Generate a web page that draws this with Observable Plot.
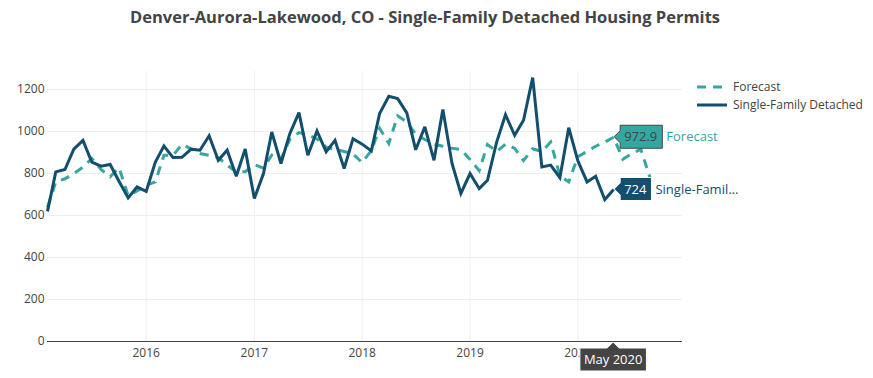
<!DOCTYPE html>
<html>
<head>
<meta charset="utf-8">
<script src="https://cdn.jsdelivr.net/npm/d3@7"></script>
<script src="https://cdn.jsdelivr.net/npm/@observablehq/plot@0.6"></script>
<style>
  body { margin: 0; background: #fff; font-family: "Open Sans", sans-serif; }
  #wrap { position: relative; width: 873px; height: 378px; overflow: hidden; background: #fff; }
  #title { height: 40px; box-sizing: border-box; padding-top: 7px; line-height: 20px; width: 850px;
           text-align: center; font-size: 16.5px; font-weight: bold; color: #444; }
  #legend { position: absolute; left: 690px; top: 76px; }
  #chart svg { display: block; }
</style>
</head>
<body>
<div id="wrap">
  <div id="title"></div>
  <div id="chart"></div>
  <div id="legend"></div>
</div>
<script>
// ---- data (monthly, starting February 2015) ----
const titleText = "Denver-Aurora-Lakewood, CO - Single-Family Detached Housing Permits";
const seriesNames = ["Forecast", "Single-Family Detached"];
const seriesColors = ["#35a6a0", "#124e6d"];
const startYear = 2015;
const startMonthIndex = 1; // February

const actualValues = [
  620, 808, 819, 916, 958, 854, 835, 843, 763, 684, 736,            // 2015 Feb-Dec
  715, 855, 931, 876, 877, 916, 911, 980, 863, 911, 787, 917,       // 2016
  681, 800, 998, 848, 990, 1090, 887, 1003, 903, 958, 824, 966,     // 2017
  940, 908, 1086, 1168, 1157, 1089, 913, 1022, 863, 1105, 848, 705, // 2018
  800, 728, 768, 950, 1080, 982, 1054, 1257, 831, 840, 780, 1018,   // 2019
  860, 760, 787, 676, 724                                           // 2020 Jan-May
];

const forecastValues = [
  640, 760, 775, 800, 830, 872, 820, 785, 828, 695, 717,            // 2015 Feb-Dec
  744, 760, 887, 887, 939, 918, 895, 887, 876, 840, 808, 808,       // 2016
  843, 826, 888, 868, 963, 995, 985, 965, 925, 915, 905, 893,       // 2017
  852, 910, 1015, 943, 1075, 1045, 988, 962, 940, 930, 920, 915,    // 2018
  867, 814, 938, 905, 940, 920, 862, 918, 905, 950, 790, 760,       // 2019
  880, 905, 930, 950, 972.9, 868, 895, 915, 780                     // 2020 Jan-Sep
];

const yearTickLabels = [2016, 2017, 2018, 2019, 2020];
const yTickValues = [0, 200, 400, 600, 800, 1000, 1200];
const hoverLabelText = "May 2020";
const hoverMonthOffset = 63; // May 2020 relative to Feb 2015

// ---- build tables ----
const monthDate = i => new Date(Date.UTC(startYear, startMonthIndex + i, 1));
const actual = actualValues.map((v, i) => ({date: monthDate(i), value: v}));
const forecast = forecastValues.map((v, i) => ({date: monthDate(i), value: v}));
const yearDates = yearTickLabels.map(y => new Date(Date.UTC(y, 0, 1)));
const xDomain = [monthDate(0), new Date(Date.UTC(2020, 11, 20))];

document.getElementById("title").textContent = titleText;

const plot = Plot.plot({
  width: 873,
  height: 338,
  marginLeft: 47,
  marginRight: 191,
  marginTop: 31,
  marginBottom: 37,
  style: {fontFamily: "'Open Sans', sans-serif", fontSize: "12px", color: "#444", background: "#fff", overflow: "visible"},
  x: {type: "utc", domain: xDomain, ticks: yearDates, tickFormat: d => String(d.getUTCFullYear()),
      tickSize: 0, tickPadding: 7, label: null},
  y: {domain: [0, 1286], ticks: yTickValues, tickFormat: d => String(d), tickSize: 0, tickPadding: 3, label: null},
  marks: [
    Plot.ruleX(yearDates, {stroke: "#eee", strokeWidth: 1}),
    Plot.ruleY(yTickValues.filter(d => d > 0), {stroke: "#eee", strokeWidth: 1}),
    Plot.ruleY([0], {stroke: "#444", strokeWidth: 1}),
    Plot.line(forecast, {x: "date", y: "value", stroke: seriesColors[0], strokeWidth: 3,
      strokeDasharray: "9,7", strokeLinecap: "butt", strokeLinejoin: "miter", strokeMiterlimit: 3}),
    Plot.line(actual, {x: "date", y: "value", stroke: seriesColors[1], strokeWidth: 3,
      strokeLinecap: "butt", strokeLinejoin: "miter", strokeMiterlimit: 3})
  ]
});
document.getElementById("chart").appendChild(plot);

// ---- hover annotations placed through Plot's scales ----
const sx = plot.scale("x"), sy = plot.scale("y");
const svg = d3.select(plot);
const hDate = monthDate(hoverMonthOffset);
const hx = sx.apply(hDate);

function sideLabel(value, fill, textColor, border, name, nameColor) {
  const py = sy.apply(value);
  const g = svg.append("g").attr("transform", `translate(${hx + 1},${py})`)
    .attr("text-anchor", "start").style("font-family", "'Open Sans', sans-serif");
  const path = g.append("path");
  const t = g.append("text").attr("x", 10).attr("dy", "0.35em").attr("text-anchor", "start")
    .attr("font-size", 13).attr("fill", textColor).text(String(value));
  const w = t.node().getComputedTextLength() + 9;
  const h = 11.5;
  path.attr("d", `M0,0L6,-6V-${h}H${6 + w}V${h}H6V6Z`)
    .attr("fill", fill).attr("stroke", border).attr("stroke-width", 1);
  g.append("text").attr("x", 6 + w + 4).attr("dy", "0.35em").attr("text-anchor", "start")
    .attr("font-size", 13).attr("fill", nameColor).text(name);
}
sideLabel(forecastValues[hoverMonthOffset], seriesColors[0], "#444", "#444", "Forecast", seriesColors[0]);
sideLabel(actualValues[hoverMonthOffset], seriesColors[1], "#fff", "#fff", "Single-Famil...", seriesColors[1]);

(function bottomLabel() {
  const py = sy.apply(0) + 1;
  const g = svg.append("g").attr("transform", `translate(${hx},${py})`);
  const path = g.append("path");
  const t = g.append("text").attr("y", 6 + 11.5).attr("dy", "0.35em").attr("text-anchor", "middle")
    .attr("font-size", 13).attr("fill", "#fff").text(hoverLabelText);
  const w = t.node().getComputedTextLength() + 8;
  path.attr("d", `M0,0L6,6H${w / 2}V29H-${w / 2}V6H-6Z`).attr("fill", "#444").attr("stroke", "#fff");
})();

// ---- legend ----
const legend = d3.select("#legend").append("svg").attr("width", 180).attr("height", 40)
  .style("font-family", "'Open Sans', sans-serif").style("font-size", "12px");
seriesNames.forEach((name, i) => {
  const y = 11 + i * 18;
  legend.append("line").attr("x1", 7).attr("x2", 37).attr("y1", y).attr("y2", y)
    .attr("stroke", seriesColors[i]).attr("stroke-width", 3)
    .attr("stroke-dasharray", i === 0 ? "9,7" : null);
  legend.append("text").attr("x", 43).attr("y", y).attr("dy", "0.35em").attr("fill", "#444").text(name);
});
</script>
</body>
</html>
